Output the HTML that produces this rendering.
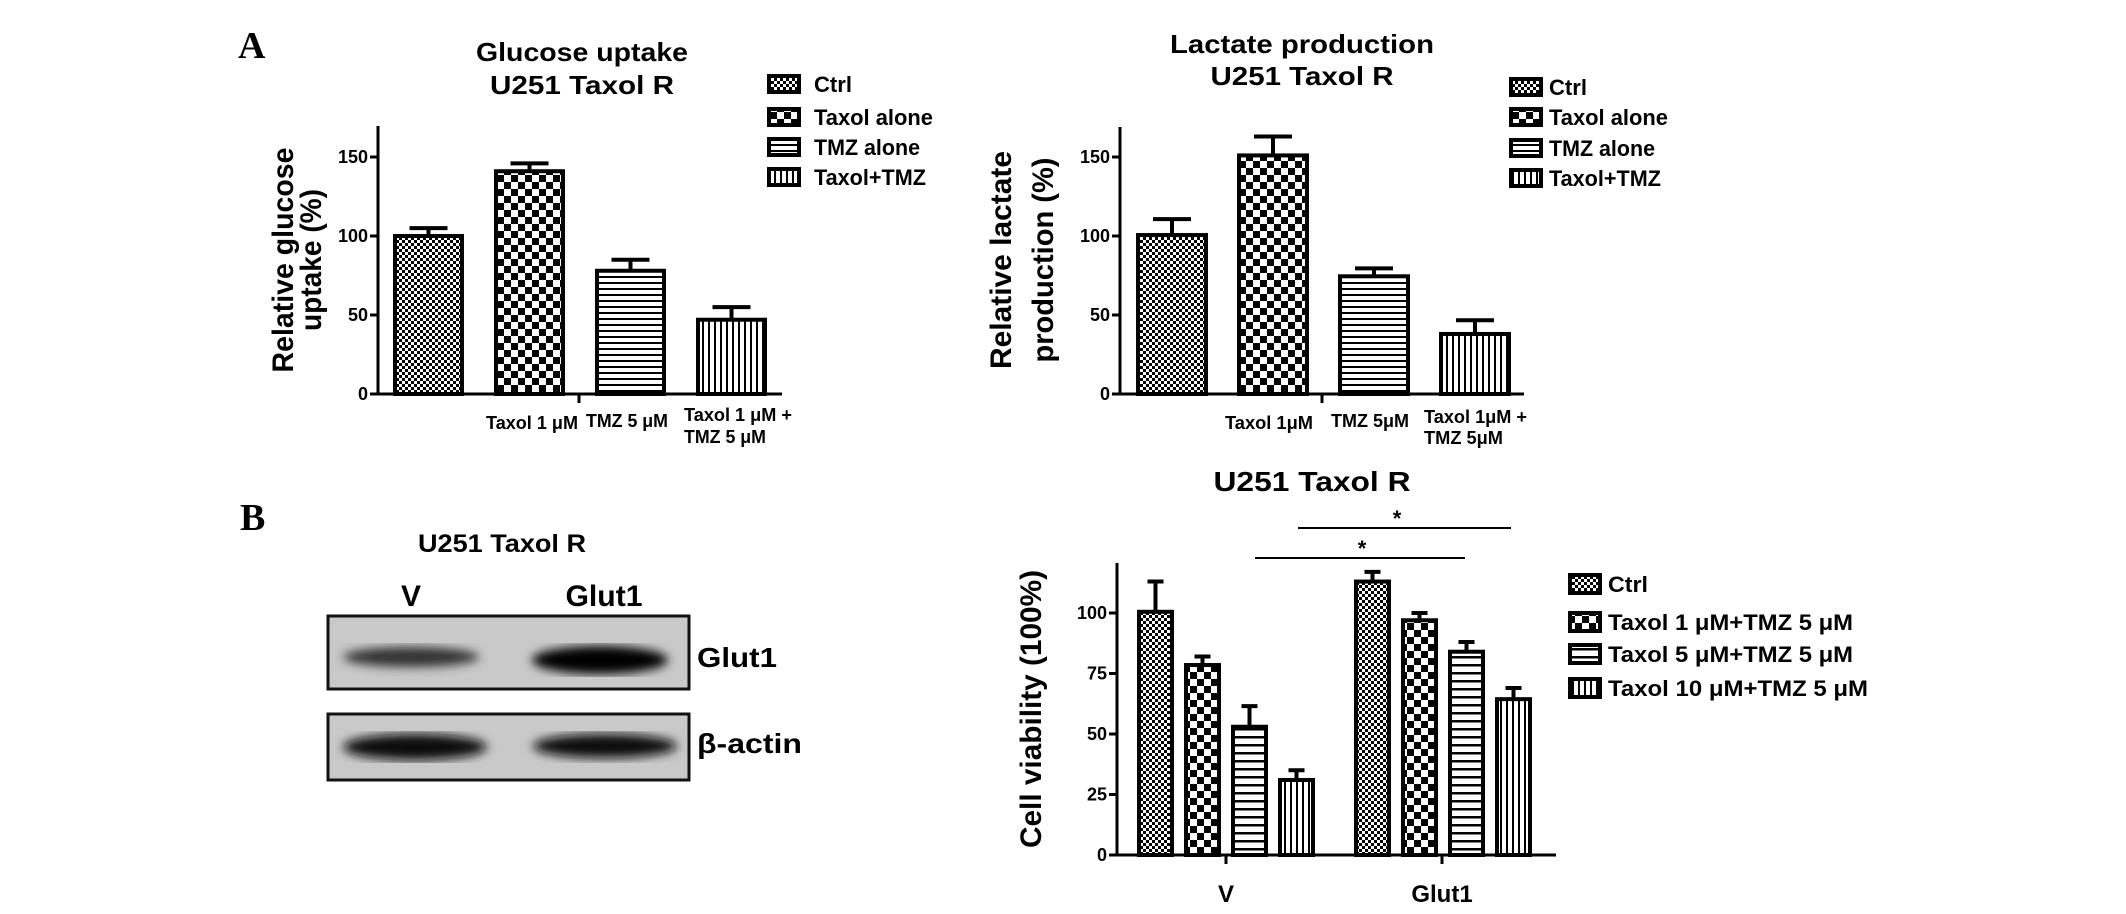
<!DOCTYPE html>
<html><head><meta charset="utf-8"><style>
html,body{margin:0;padding:0;background:#fff;}
svg{display:block;font-family:"Liberation Sans",Arial,sans-serif;font-weight:bold;}
</style></head><body>
<svg id="fig" width="2126" height="914" viewBox="0 0 2126 914" xmlns="http://www.w3.org/2000/svg">
<defs>
<pattern id="pFine" patternUnits="userSpaceOnUse" width="6" height="6"><rect width="6" height="6" fill="#fff"/><rect width="3" height="3" fill="#000"/><rect x="3" y="3" width="3" height="3" fill="#000"/></pattern>
<pattern id="pCoarse" patternUnits="userSpaceOnUse" width="14" height="14"><rect width="14" height="14" fill="#fff"/><rect width="7" height="7" fill="#000"/><rect x="7" y="7" width="7" height="7" fill="#000"/></pattern>
<pattern id="pHorA" patternUnits="userSpaceOnUse" width="6" height="6"><rect width="6" height="6" fill="#fff"/><rect y="0" width="6" height="2" fill="#000"/></pattern>
<pattern id="pVerA" patternUnits="userSpaceOnUse" width="6" height="6"><rect width="6" height="6" fill="#fff"/><rect x="0" width="2" height="6" fill="#000"/></pattern>
<pattern id="pHorB" patternUnits="userSpaceOnUse" width="8" height="8"><rect width="8" height="8" fill="#fff"/><rect y="0" width="8" height="2.5" fill="#000"/></pattern>
<pattern id="pVerB" patternUnits="userSpaceOnUse" width="6" height="6"><rect width="6" height="6" fill="#fff"/><rect x="0" width="2" height="6" fill="#000"/></pattern>
<filter id="blur"><feGaussianBlur stdDeviation="5"/></filter>
</defs>

<text x="238" y="58" font-family="Liberation Serif, serif" font-size="38">A</text>
<text x="240" y="530" font-family="Liberation Serif, serif" font-size="38">B</text>

<g>
<text x="502" y="552" text-anchor="middle" font-size="25" textLength="168" lengthAdjust="spacingAndGlyphs">U251 Taxol R</text>
<text x="411" y="606" text-anchor="middle" font-size="30">V</text>
<text x="604" y="606" text-anchor="middle" font-size="30" textLength="77" lengthAdjust="spacingAndGlyphs">Glut1</text>
<g>
<rect x="328" y="616" width="361" height="73" fill="#c9c9c9" stroke="#111" stroke-width="3"/>
<g filter="url(#blur)"><ellipse cx="411" cy="657" rx="68" ry="10" fill="#333"/><ellipse cx="600" cy="660" rx="68" ry="14" fill="#050505"/></g>
</g>
<g>
<rect x="328" y="714" width="361" height="66" fill="#c9c9c9" stroke="#111" stroke-width="3"/>
<g filter="url(#blur)"><ellipse cx="415" cy="747" rx="72" ry="13" fill="#080808"/><ellipse cx="605" cy="746" rx="72" ry="12" fill="#111"/></g>
</g>
<text x="697" y="667" font-size="28" textLength="80" lengthAdjust="spacingAndGlyphs">Glut1</text>
<text x="697" y="753" font-size="28" textLength="105" lengthAdjust="spacingAndGlyphs">β-actin</text>
</g>
<g id="charts"></g>
</svg>
<script>
// Chart A1: glucose uptake
const glucoseCategories = ["Ctrl", "Taxol alone", "TMZ alone", "Taxol+TMZ"];
const glucoseValues = [100, 141, 78, 47];
const glucoseErrors = [105, 146, 85, 55];
// Chart A2: lactate production
const lactateCategories = ["Ctrl", "Taxol alone", "TMZ alone", "Taxol+TMZ"];
const lactateValues = [100.6, 151, 74.5, 38];
const lactateErrors = [110.7, 163, 79.5, 46.7];
const chartATicks = [0, 50, 100, 150];
// Chart B: cell viability
const viabilityGroups = ["V", "Glut1"];
const viabilitySeries = ["Ctrl", "Taxol 1 μM+TMZ 5 μM", "Taxol 5 μM+TMZ 5 μM", "Taxol 10 μM+TMZ 5 μM"];
const viabilityV = [100.5, 78.5, 53, 31];
const viabilityVErr = [113, 82, 61.5, 35];
const viabilityGlut1 = [113, 97, 84, 64.4];
const viabilityGlut1Err = [117, 100, 88, 69];
const chartBTicks = [0, 25, 50, 75, 100];

const NS = "http://www.w3.org/2000/svg";
const root = document.getElementById("charts");
function mk(tag, attrs, parent, txt) {
  const e = document.createElementNS(NS, tag);
  for (const k in attrs) e.setAttribute(k, attrs[k]);
  if (txt !== undefined) e.textContent = txt;
  (parent || root).appendChild(e);
  return e;
}

function chartA(o) {
  const g = mk("g", {});
  
  
  const y = v => o.y0 - (v / 50) * o.per50;
  const ya = mk("line", {x1: o.ax, y1: o.ytop, x2: o.ax, y2: o.y0 + 1.5, stroke: "#000", "stroke-width": 3}, g);
  
  
  const xa = mk("line", {x1: o.ax - 8, y1: o.y0, x2: o.xend, y2: o.y0, stroke: "#000", "stroke-width": 3}, g);
  
  
  mk("line", {x1: o.xtick, y1: o.y0, x2: o.xtick, y2: o.y0 + 9, stroke: "#000", "stroke-width": 3}, g);
  chartATicks.forEach(t => {
    mk("line", {x1: o.ax - 8, y1: y(t), x2: o.ax, y2: y(t), stroke: "#000", "stroke-width": 3}, g);
    const tl = mk("text", {x: o.ax - 10, y: y(t) + 6, "text-anchor": "end", "font-size": 18}, g, String(t));
    
    
  });
  const fills = ["url(#pFine)", "url(#pCoarse)", "url(#pHorA)", "url(#pVerA)"];
  o.values.forEach((v, i) => {
    const x = o.bx0 + i * o.step;
    const b = mk("rect", {x: x, y: y(v), width: o.bw, height: o.y0 - y(v), fill: fills[i], stroke: "#000", "stroke-width": 4}, g);
    
    
    const cx = x + o.bw / 2;
    const e = mk("path", {d: `M${cx} ${y(v)}V${y(o.errs[i])}M${cx - 19} ${y(o.errs[i])}H${cx + 19}`, stroke: "#000", "stroke-width": 4, fill: "none"}, g);
    
    
  });
  const t1 = mk("text", {x: o.tcx, y: o.t1y, "text-anchor": "middle", "font-size": 26, textLength: o.t1w, lengthAdjust: "spacingAndGlyphs"}, g, o.title1);
  
  
  const t2 = mk("text", {x: o.tcx, y: o.t2y, "text-anchor": "middle", "font-size": 26, textLength: o.t2w, lengthAdjust: "spacingAndGlyphs"}, g, "U251 Taxol R");
  
  
  o.ylab.forEach((s, k) => {
    const yl = mk("text", {x: 0, y: 0, "text-anchor": "middle", "font-size": 30, textLength: o.ylabW[k], lengthAdjust: "spacingAndGlyphs", transform: `translate(${o.ylabX[k]},${o.ylabCY}) rotate(-90)`}, g, s);
    
    
  });
  o.xlabs.forEach(l => {
    const xl = mk("text", {x: l[1], y: l[2], "font-size": 18, textLength: l[3], lengthAdjust: "spacingAndGlyphs"}, g, l[0]);
    
    
  });
  o.cats.forEach((c, i) => {
    const ly = o.legY[i];
    const sw = mk("rect", {x: o.legX, y: ly - 8, width: 30, height: 16, fill: fills[i], stroke: "#000", "stroke-width": 4}, g);
    
    
    const lt = mk("text", {x: o.legTX, y: ly + 8, "font-size": 22, textLength: o.legW[i], lengthAdjust: "spacingAndGlyphs"}, g, c);
    
    
  });
}

chartA({name: "glucose-uptake-chart", cats: glucoseCategories, values: glucoseValues, errs: glucoseErrors,
  ax: 378, ytop: 126, y0: 394, per50: 79, xend: 782, xtick: 579, bx0: 395, step: 101, bw: 67,
  title1: "Glucose uptake", tcx: 582, t1y: 61, t2y: 94, t1w: 212, t2w: 184,
  ylab: ["Relative glucose", "uptake (%)"], ylabX: [293, 321], ylabW: [225, 142], ylabCY: 260,
  xlabs: [["Taxol 1 μM", 486, 429, 92], ["TMZ 5 μM", 586, 427, 82], ["Taxol 1 μM +", 684, 421, 108], ["TMZ 5 μM", 684, 443, 82]],
  legX: 769, legTX: 814, legY: [84, 117, 147, 177], legW: [38, 119, 106, 112]});

chartA({name: "lactate-production-chart", cats: lactateCategories, values: lactateValues, errs: lactateErrors,
  ax: 1120, ytop: 127, y0: 394, per50: 79, xend: 1524, xtick: 1322, bx0: 1138, step: 101, bw: 68,
  title1: "Lactate production", tcx: 1302, t1y: 53, t2y: 85, t1w: 264, t2w: 183,
  ylab: ["Relative  lactate", "production (%)"], ylabX: [1011, 1053], ylabW: [218, 205], ylabCY: 260,
  xlabs: [["Taxol 1μM", 1225, 429, 88], ["TMZ 5μM", 1331, 427, 78], ["Taxol 1μM +", 1424, 423, 103], ["TMZ 5μM", 1424, 444, 79]],
  legX: 1511, legTX: 1549, legY: [87, 117, 148, 178], legW: [38, 119, 106, 112]});

// Chart B
(function () {
  const g = mk("g", {});
  
  
  const ax = 1117, y0 = 855, per25 = 60.5, xend = 1556;
  const y = v => y0 - (v / 25) * per25;
  const ya = mk("line", {x1: ax, y1: 563, x2: ax, y2: y0 + 1.5, stroke: "#000", "stroke-width": 3}, g);
  
  
  const xa = mk("line", {x1: ax - 8, y1: y0, x2: xend, y2: y0, stroke: "#000", "stroke-width": 3}, g);
  
  
  chartBTicks.forEach(t => {
    mk("line", {x1: ax - 8, y1: y(t), x2: ax, y2: y(t), stroke: "#000", "stroke-width": 3}, g);
    const tl = mk("text", {x: ax - 10, y: y(t) + 6, "text-anchor": "end", "font-size": 18}, g, String(t));
    
    
  });
  const fills = ["url(#pFine)", "url(#pCoarse)", "url(#pHorB)", "url(#pVerB)"];
  const groupStart = [1139, 1356], step = 47, bw = 33, tickX = [1226, 1442];
  const data = [[viabilityV, viabilityVErr], [viabilityGlut1, viabilityGlut1Err]];
  viabilityGroups.forEach((gn, gi) => {
    mk("line", {x1: tickX[gi], y1: y0, x2: tickX[gi], y2: y0 + 9, stroke: "#000", "stroke-width": 3}, g);
    const gl = mk("text", {x: tickX[gi], y: 902, "text-anchor": "middle", "font-size": 24}, g, gn);
    
    
    data[gi][0].forEach((v, i) => {
      const x = groupStart[gi] + i * step;
      const b = mk("rect", {x: x, y: y(v), width: bw, height: y0 - y(v), fill: fills[i], stroke: "#000", "stroke-width": 4}, g);
      
      
      const cx = x + bw / 2, ey = y(data[gi][1][i]);
      const e = mk("path", {d: `M${cx} ${y(v)}V${ey}M${cx - 8} ${ey}H${cx + 8}`, stroke: "#000", "stroke-width": 4, fill: "none"}, g);
      
      
    });
  });
  const tt = mk("text", {x: 1312, y: 491, "text-anchor": "middle", "font-size": 28, textLength: 197, lengthAdjust: "spacingAndGlyphs"}, g, "U251 Taxol R");
  
  
  const yl = mk("text", {x: 0, y: 0, "text-anchor": "middle", "font-size": 30, textLength: 278, lengthAdjust: "spacingAndGlyphs", transform: "translate(1041,709) rotate(-90)"}, g, "Cell viability (100%)");
  
  
  const s1 = mk("line", {x1: 1298, y1: 528, x2: 1511, y2: 528, stroke: "#000", "stroke-width": 2}, g);
  
  
  const st1 = mk("text", {x: 1397, y: 526, "text-anchor": "middle", "font-size": 22}, g, "*");
  
  
  const s2 = mk("line", {x1: 1255, y1: 558, x2: 1465, y2: 558, stroke: "#000", "stroke-width": 2}, g);
  
  
  const st2 = mk("text", {x: 1362, y: 556, "text-anchor": "middle", "font-size": 22}, g, "*");
  
  
  const legY = [584, 622, 654, 688], legW = [40, 245, 245, 260];
  viabilitySeries.forEach((s, i) => {
    const sw = mk("rect", {x: 1570, y: legY[i] - 9, width: 30, height: 18, fill: fills[i], stroke: "#000", "stroke-width": 4}, g);
    
    
    const lt = mk("text", {x: 1608, y: legY[i] + 8, "font-size": 22, textLength: legW[i], lengthAdjust: "spacingAndGlyphs"}, g, s);
    
    
  });
})();
</script>
</body></html>
